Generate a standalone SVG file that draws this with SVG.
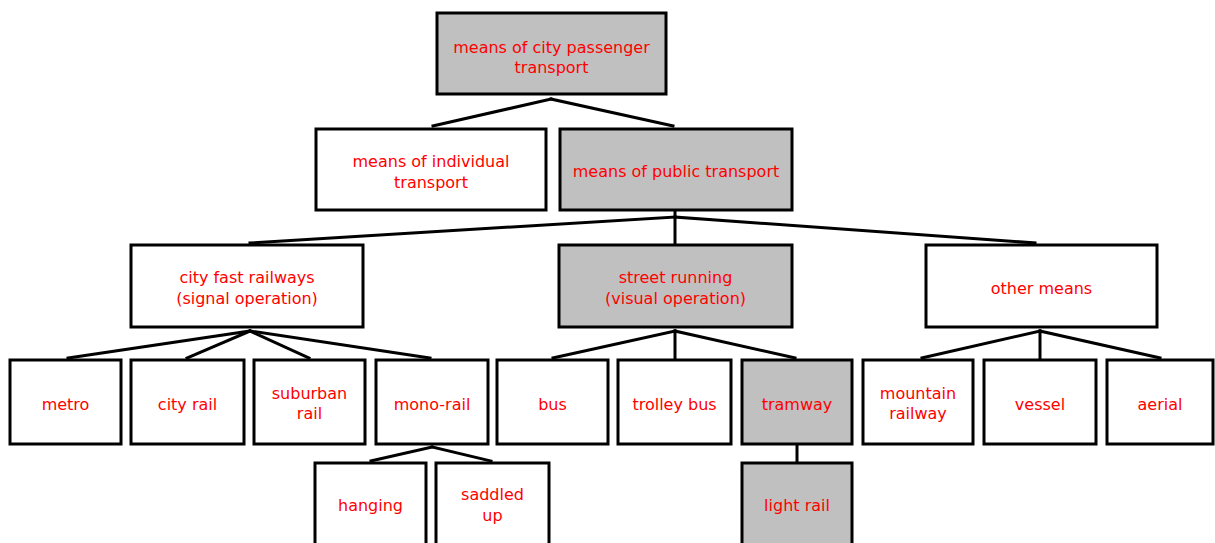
<svg xmlns="http://www.w3.org/2000/svg" width="1215" height="543" viewBox="0 0 1215 543">
<style>
.b{fill:#fff;stroke:#000;stroke-width:3}
.g{fill:#c0c0c0;stroke:#000;stroke-width:3}
text{font-family:"DejaVu Sans",Verdana,sans-serif;font-size:16px;fill:#ff0000;text-anchor:middle}
#connectors line{stroke:#000;stroke-width:3;stroke-linecap:square}
</style>
<rect width="1215" height="543" fill="#fff"/>
<g id="connectors">
<line x1="551" y1="99" x2="433" y2="126"/>
<line x1="551" y1="99" x2="673" y2="126"/>
<line x1="675" y1="211" x2="675" y2="244"/>
<line x1="675" y1="217" x2="250" y2="243"/>
<line x1="675" y1="217" x2="1035" y2="243"/>
<line x1="250" y1="331" x2="68" y2="358"/>
<line x1="250" y1="331" x2="187" y2="358"/>
<line x1="250" y1="331" x2="309" y2="358"/>
<line x1="250" y1="331" x2="430" y2="358"/>
<line x1="432" y1="447" x2="371" y2="461"/>
<line x1="432" y1="447" x2="491" y2="461"/>
<line x1="675" y1="331" x2="553" y2="358"/>
<line x1="675" y1="331" x2="675" y2="359"/>
<line x1="675" y1="331" x2="795" y2="358"/>
<line x1="797" y1="445" x2="797" y2="462"/>
<line x1="1040" y1="331" x2="922" y2="358"/>
<line x1="1040" y1="331" x2="1040" y2="359"/>
<line x1="1040" y1="331" x2="1160" y2="358"/>
</g>
<g id="n-city-passenger"><rect class="g" x="437" y="13" width="229" height="81"/><text x="551.5" y="53">means of city passenger</text><text x="551.5" y="73">transport</text></g>
<g id="n-individual"><rect class="b" x="316" y="129" width="230" height="81"/><text x="431" y="167">means of individual</text><text x="431" y="188">transport</text></g>
<g id="n-public"><rect class="g" x="560" y="129" width="232" height="81"/><text x="676" y="177">means of public transport</text></g>
<g id="n-city-fast"><rect class="b" x="131" y="245" width="232" height="82"/><text x="247" y="283">city fast railways</text><text x="247" y="304">(signal operation)</text></g>
<g id="n-street"><rect class="g" x="559" y="245" width="233" height="82"/><text x="675.5" y="283">street running</text><text x="675.5" y="304">(visual operation)</text></g>
<g id="n-other"><rect class="b" x="926" y="245" width="231" height="82"/><text x="1041.5" y="294">other means</text></g>
<g id="n-metro"><rect class="b" x="10" y="360" width="111" height="84"/><text x="65.5" y="410">metro</text></g>
<g id="n-city-rail"><rect class="b" x="131" y="360" width="113" height="84"/><text x="187.5" y="410">city rail</text></g>
<g id="n-suburban"><rect class="b" x="254" y="360" width="111" height="84"/><text x="309.5" y="399">suburban</text><text x="309.5" y="419">rail</text></g>
<g id="n-mono"><rect class="b" x="376" y="360" width="112" height="84"/><text x="432" y="410">mono-rail</text></g>
<g id="n-bus"><rect class="b" x="497" y="360" width="111" height="84"/><text x="552.5" y="410">bus</text></g>
<g id="n-trolley"><rect class="b" x="618" y="360" width="113" height="84"/><text x="674.5" y="410">trolley bus</text></g>
<g id="n-tramway"><rect class="g" x="742" y="360" width="110" height="84"/><text x="797" y="410">tramway</text></g>
<g id="n-mountain"><rect class="b" x="863" y="360" width="110" height="84"/><text x="918" y="399">mountain</text><text x="918" y="419">railway</text></g>
<g id="n-vessel"><rect class="b" x="984" y="360" width="112" height="84"/><text x="1040" y="410">vessel</text></g>
<g id="n-aerial"><rect class="b" x="1107" y="360" width="106" height="84"/><text x="1160" y="410">aerial</text></g>
<g id="n-hanging"><rect class="b" x="315" y="463" width="111" height="90"/><text x="370.5" y="511">hanging</text></g>
<g id="n-saddled"><rect class="b" x="436" y="463" width="113" height="90"/><text x="492.5" y="500">saddled</text><text x="492.5" y="521">up</text></g>
<g id="n-light-rail"><rect class="g" x="742" y="463" width="110" height="90"/><text x="797" y="511">light rail</text></g>
</svg>
